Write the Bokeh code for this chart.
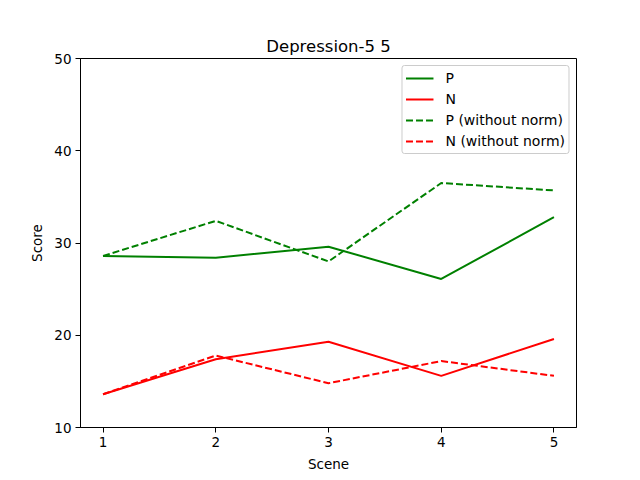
from bokeh.plotting import figure
from bokeh.models import Range1d, FixedTicker, Legend, LegendItem
from bokeh.embed import file_html
from bokeh.resources import INLINE

scenes = [1, 2, 3, 4, 5]
p_norm = [28.6, 28.4, 29.6, 26.1, 32.8]
n_norm = [13.6, 17.4, 19.3, 15.6, 19.6]
p_raw = [28.6, 32.4, 28.0, 36.5, 35.7]
n_raw = [13.6, 17.8, 14.8, 17.2, 15.6]

FONT = "DejaVu Sans"

p = figure(width=640, height=480, output_backend="svg", toolbar_location=None,
           x_range=Range1d(0.8, 5.2), y_range=Range1d(10, 50),
           min_border_left=80, min_border_right=64, min_border_top=58, min_border_bottom=53,
           title="Depression-5 5")
p.title.align = "center"
p.title.text_font = FONT
p.title.text_font_size = "16.5px"
p.title.text_font_style = "normal"
p.title.text_color = "black"
p.title.standoff = 6

p.xgrid.visible = False
p.ygrid.visible = False
p.outline_line_color = "black"
p.outline_line_width = 1

for ax in (p.xaxis[0], p.yaxis[0]):
    ax.major_label_text_font = FONT
    ax.major_label_text_font_size = "13.5px"
    ax.major_label_text_color = "black"
    ax.axis_label_text_font = FONT
    ax.axis_label_text_font_size = "13.5px"
    ax.axis_label_text_font_style = "normal"
    ax.axis_label_text_color = "black"
    ax.minor_tick_line_color = None
    ax.major_tick_out = 5
    ax.major_tick_in = 0
    ax.major_tick_line_color = "black"
    ax.axis_line_color = "black"
    ax.major_label_standoff = 4
    ax.axis_label_standoff = 6

p.xaxis.ticker = FixedTicker(ticks=scenes)
p.yaxis.ticker = FixedTicker(ticks=[10, 20, 30, 40, 50])
p.xaxis.axis_label = "Scene"
p.yaxis.axis_label = "Score"

r1 = p.line(scenes, p_norm, line_color="green", line_width=2)
r2 = p.line(scenes, n_norm, line_color="red", line_width=2)
r3 = p.line(scenes, p_raw, line_color="green", line_width=2, line_dash="7 3")
r4 = p.line(scenes, n_raw, line_color="red", line_width=2, line_dash="7 3")

legend = Legend(items=[
    LegendItem(label="P", renderers=[r1]),
    LegendItem(label="N", renderers=[r2]),
    LegendItem(label="P (without norm)", renderers=[r3]),
    LegendItem(label="N (without norm)", renderers=[r4]),
], location="top_right")
legend.label_text_font = FONT
legend.label_text_font_size = "14px"
legend.label_text_color = "black"
legend.border_line_color = "#cccccc"
legend.border_line_alpha = 1
legend.border_radius = 3
legend.glyph_width = 28
legend.glyph_height = 18
legend.label_height = 18
legend.spacing = 3
legend.padding = 3
legend.margin = 7
legend.label_standoff = 12
p.add_layout(legend)

open("out.html", "w").write(file_html(p, INLINE))
